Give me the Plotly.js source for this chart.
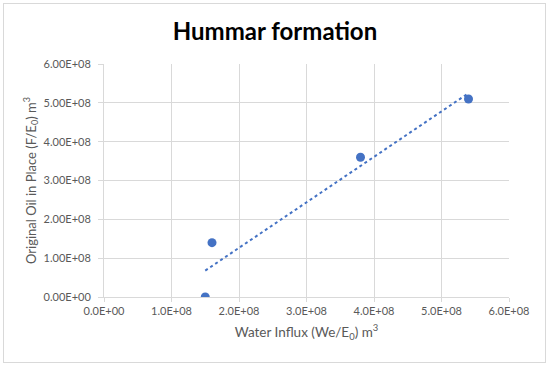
<!DOCTYPE html>
<html>
<head>
<meta charset="utf-8">
<script src="https://cdn.plot.ly/plotly-3.0.1.min.js"></script>
<style>
html,body{margin:0;padding:0;background:#fff;}
#wrap{position:relative;width:550px;height:366px;}
#chart{width:550px;height:366px;}
#frame{position:absolute;left:3px;top:3px;width:541px;height:358px;border:1px solid #d9d9d9;pointer-events:none;}
</style>
</head>
<body>
<div id="wrap"><div id="chart"></div><div id="frame"></div></div>
<script>
// Data
const waterInflux = [1.5e8, 1.6e8, 3.8e8, 5.4e8];
const ooip = [0, 1.4e8, 3.6e8, 5.1e8];
const xTickVals = [0, 1e8, 2e8, 3e8, 4e8, 5e8, 6e8];
const xTickText = ["0.0E+00","1.0E+08","2.0E+08","3.0E+08","4.0E+08","5.0E+08","6.0E+08"];
const yTickVals = [0, 1e8, 2e8, 3e8, 4e8, 5e8, 6e8];
const yTickText = ["0.00E+00","1.00E+08","2.00E+08","3.00E+08","4.00E+08","5.00E+08","6.00E+08"];

// Linear trendline (least squares) over the data range
const n = waterInflux.length;
const mx = waterInflux.reduce((a,b)=>a+b,0)/n;
const my = ooip.reduce((a,b)=>a+b,0)/n;
let sxx=0, sxy=0;
for (let i=0;i<n;i++){ sxx += (waterInflux[i]-mx)**2; sxy += (waterInflux[i]-mx)*(ooip[i]-my); }
const slope = sxy/sxx, icpt = my - slope*mx;
const tx = [Math.min(...waterInflux), Math.max(...waterInflux)];
const ty = tx.map(v => icpt + slope*v);

const blue = '#4472C4';
const grey = '#595959';
const font = 'Lato, "Open Sans", sans-serif';

const traces = [
  {x: tx, y: ty, mode: 'lines', line: {color: blue, width: 2, dash: 'dot'}, hoverinfo: 'skip'},
  {x: waterInflux, y: ooip, mode: 'markers', marker: {color: blue, size: 9}}
];

const layout = {
  width: 550, height: 366,
  margin: {l: 104, r: 41, t: 64, b: 69},
  paper_bgcolor: '#fff', plot_bgcolor: '#fff',
  showlegend: false,
  font: {family: font, color: grey, size: 11},
  title: {text: '<b>Hummar formation</b>', x: 0.5, xref: 'container', xanchor: 'center',
          y: 0.915, yref: 'container', yanchor: 'middle',
          font: {family: font, size: 24, color: '#000'}},
  xaxis: {
    range: [0, 6e8], tickvals: xTickVals, ticktext: xTickText,
    showgrid: true, gridcolor: '#d9d9d9', gridwidth: 1,
    showline: true, linecolor: '#d9d9d9', linewidth: 1,
    ticks: 'outside', ticklen: 4, tickcolor: '#d9d9d9',
    zeroline: false, tickfont: {family: font, size: 11, color: grey},
    title: {text: 'Water Influx (We/E<sub>0</sub>) m<sup>3</sup>', font: {family: font, size: 13.5, color: grey}, standoff: 11}
  },
  yaxis: {
    range: [0, 6e8], tickvals: yTickVals, ticktext: yTickText,
    showgrid: true, gridcolor: '#d9d9d9', gridwidth: 1,
    showline: true, linecolor: '#d9d9d9', linewidth: 1,
    ticks: 'outside', ticklen: 5, tickcolor: '#d9d9d9',
    ticklabelstandoff: 5,
    zeroline: false, tickfont: {family: font, size: 11, color: grey},
    title: {text: 'Original Oil in Place (F/E<sub>0</sub>) m<sup>3</sup>', font: {family: font, size: 13, color: grey}, standoff: 4}
  }
};

Plotly.newPlot('chart', traces, layout, {displayModeBar: false, staticPlot: true});
</script>
</body>
</html>
